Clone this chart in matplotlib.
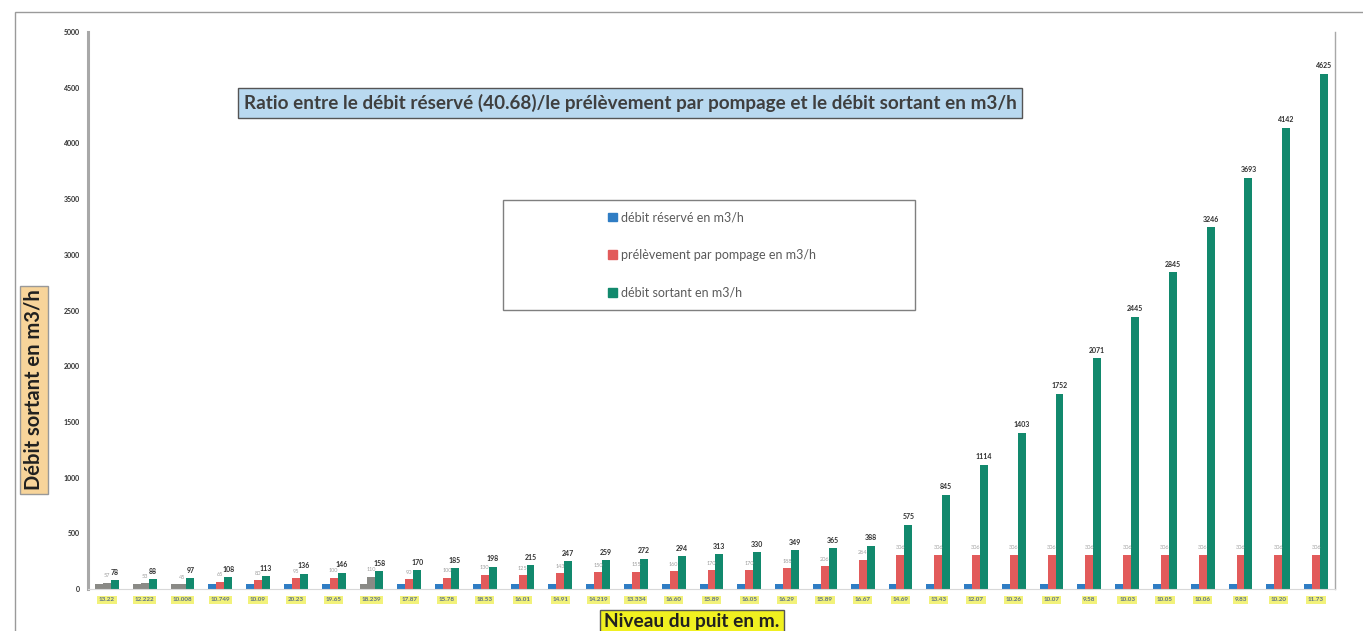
import numpy as np
import matplotlib.pyplot as plt
from matplotlib.patches import Rectangle, Patch

plt.rcParams['font.family'] = ['Lato', 'DejaVu Sans']

# niveaux du puit (labels barely legible in the scan)
niveaux = ["13.22", "12.222", "10.008", "10.749", "10.09", "20.23", "19.65",
           "18.239", "17.87", "15.78", "18.53", "16.01", "14.91", "14.219",
           "13.334", "16.60", "15.89", "16.05", "16.29", "15.89", "16.67",
           "14.69", "13.43", "12.07", "10.26", "10.07", "9.58", "10.03",
           "10.05", "10.06", "9.83", "10.20", "11.73"]

debit_reserve = [40.68] * 33
prelevement = [57, 53, 45, 65, 80, 95, 100, 110, 90, 100, 130, 125, 143, 150,
               155, 160, 170, 170, 188, 206, 264, 306, 306, 306, 306, 306,
               306, 306, 306, 306, 306, 306, 306]
debit_sortant = [78, 88, 97, 108, 113, 136, 146, 158, 170, 185, 198, 215, 247,
                 259, 272, 294, 313, 330, 349, 365, 388, 575, 845, 1114, 1403,
                 1752, 2071, 2445, 2845, 3246, 3693, 4142, 4625]
series = ['débit réservé en m3/h', 'prélèvement par pompage en m3/h',
          'débit sortant en m3/h']
# groups where the scan lost the blue/red colour
faded = [0, 1, 2, 7]

blue = '#2f7dc4'
red = '#e25b5b'
green = '#12896d'
grey = '#8a8a86'

fig = plt.figure(figsize=(13.63, 6.31), dpi=100)
ax = fig.add_axes([88/1363, 1-589/631, (1335-88)/1363, (589-32)/631])

x = np.arange(len(niveaux))
w = 0.21
cb = [grey if i in faded else blue for i in x]
cr = [grey if i in faded else red for i in x]
ax.bar(x - w, debit_reserve, w, color=cb)
ax.bar(x, prelevement, w, color=cr)
ax.bar(x + w, debit_sortant, w, color=green)

for i in x:
    ax.text(i + w, debit_sortant[i] + 40, str(debit_sortant[i]), ha='center',
            va='bottom', fontsize=5, fontweight='bold', color='#303030')
    ax.text(i, prelevement[i] + 40, str(prelevement[i]), ha='center',
            va='bottom', fontsize=4, color='#a0a0a0')

ax.set_xlim(-0.5, len(niveaux) - 0.5)
ax.set_ylim(0, 5000)
ax.set_yticks(np.arange(0, 5001, 500))
ax.set_yticklabels([str(v) for v in range(0, 5001, 500)], fontsize=5,
                   fontweight='bold', color='#303030')
ax.set_xticks(x)
ax.set_xticklabels(niveaux, fontsize=4.5, fontweight='bold', color='#5a6f8a')
for t in ax.get_xticklabels():
    t.set_bbox(dict(facecolor='#f2f27a', edgecolor='none', pad=1.2))
ax.tick_params(length=0, pad=6)

ax.spines['top'].set_visible(False)
ax.spines['left'].set_color('#a8a8a8')
ax.spines['left'].set_linewidth(2.2)
ax.spines['right'].set_color('#a8a8a8')
ax.spines['right'].set_linewidth(1)
ax.spines['bottom'].set_color('#d8d8d8')
ax.spines['bottom'].set_linewidth(0.8)

# title
fig.text(630/1363, 1-103/631,
         'Ratio entre le débit réservé (40.68)/le prélèvement par pompage et le débit sortant en m3/h',
         ha='center', va='center', fontsize=13.6, fontweight='bold', color='#3f3f3f',
         bbox=dict(facecolor='#b9d9f0', edgecolor='#555555', boxstyle='square,pad=0.3'))

# axis titles
fig.text(34/1363, 1-390/631, 'Débit sortant en m3/h', rotation=90, ha='center',
         va='center', fontsize=14.5, fontweight='bold', color='#202020',
         bbox=dict(facecolor='#f7d49a', edgecolor='#999999', boxstyle='square,pad=0.2'))
fig.text(692/1363, 1-622/631, 'Niveau du puit en m.', ha='center', va='center',
         fontsize=13.8, fontweight='bold', color='#202020',
         bbox=dict(facecolor='#f0f020', edgecolor='#555555', boxstyle='square,pad=0.2'))

# legend in its own box
fig.patches.append(Rectangle((503/1363, 1-310/631), 412/1363, 110/631,
                             transform=fig.transFigure, facecolor='white',
                             edgecolor='#7f7f7f', linewidth=1))
handles = [Patch(color=c, label=s) for c, s in zip([blue, red, green], series)]
leg = fig.legend(handles=handles, loc='upper left',
                 bbox_to_anchor=(602/1363, 1-205/631), frameon=False,
                 fontsize=9, labelspacing=2.05, handlelength=0.7,
                 handleheight=0.7, handletextpad=0.3, borderpad=0)
for t in leg.get_texts():
    t.set_color('#5a5a5a')

# outer frame of the scanned sheet
fig.patches.append(Rectangle((15/1363, -0.01), 1.2, 1-12/631 + 0.01,
                             transform=fig.transFigure, facecolor='none',
                             edgecolor='#9a9a9a', linewidth=1))

fig.savefig('out.png', dpi=100)
